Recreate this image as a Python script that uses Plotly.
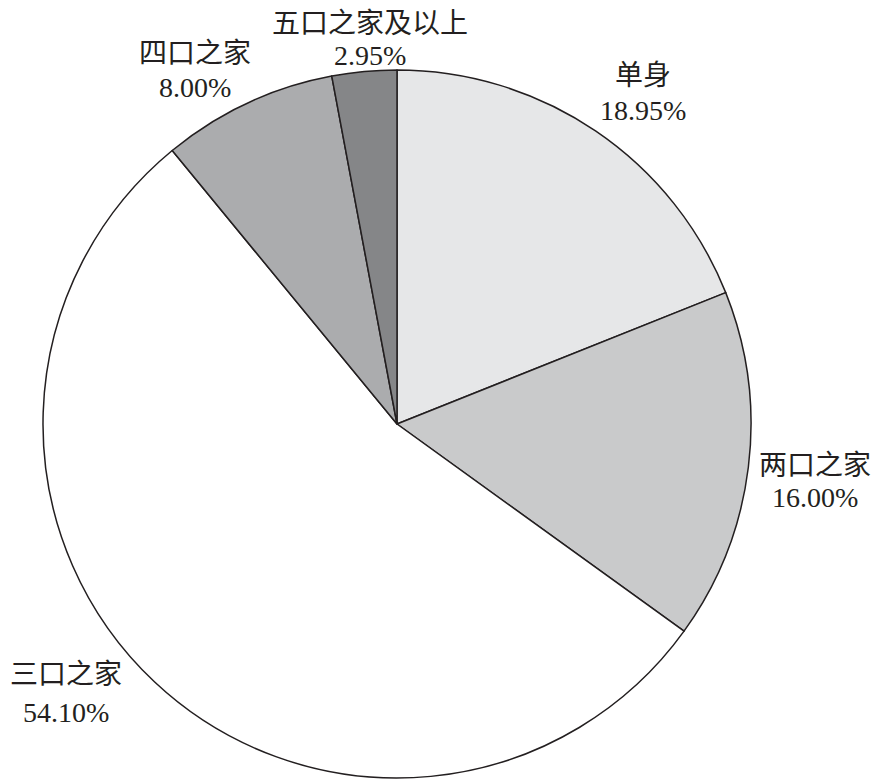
import plotly.graph_objects as go

# Household size shares (%)
labels = ["单身", "两口之家", "三口之家", "四口之家", "五口之家及以上"]
values = [18.95, 16.00, 54.10, 8.00, 2.95]
colors = ["#e6e7e8", "#c9cacb", "#ffffff", "#abacae", "#858688"]

# label positions in pixels (layout only): x, y of name line, y of value line
label_px = [(643, 76, 110), (815, 465, 497), (66, 674, 712), (195, 53, 88), (370, 23, 56)]

W, H = 879, 782
OFF = 8  # page offset seen in the rendered picture
font_family = "Liberation Serif, Noto Sans CJK SC, serif"
text_font = dict(family=font_family, size=28, color="#231f20")

fig = go.Figure(go.Pie(
    labels=labels,
    values=values,
    sort=False,
    direction="clockwise",
    rotation=0,
    textinfo="none",
    hoverinfo="label+value",
    marker=dict(colors=colors, line=dict(color="#231f20", width=1.5)),
    domain=dict(x=[(43 - OFF) / W, (751 - OFF) / W],
                y=[1 - (778 - OFF) / H, 1 - (70 - OFF) / H]),
    showlegend=False,
))

for lab, val, (px, py1, py2) in zip(labels, values, label_px):
    for txt, py in ((lab, py1), (f"{val:.2f}%", py2)):
        fig.add_annotation(
            x=(px - OFF) / W, y=1 - (py - OFF) / H, xref="paper", yref="paper",
            xanchor="center", yanchor="middle",
            text=txt, showarrow=False, font=text_font,
        )

fig.update_layout(
    width=W, height=H,
    margin=dict(l=0, r=0, t=0, b=0),
    paper_bgcolor="white",
    plot_bgcolor="white",
)

fig.write_html("out.html")
